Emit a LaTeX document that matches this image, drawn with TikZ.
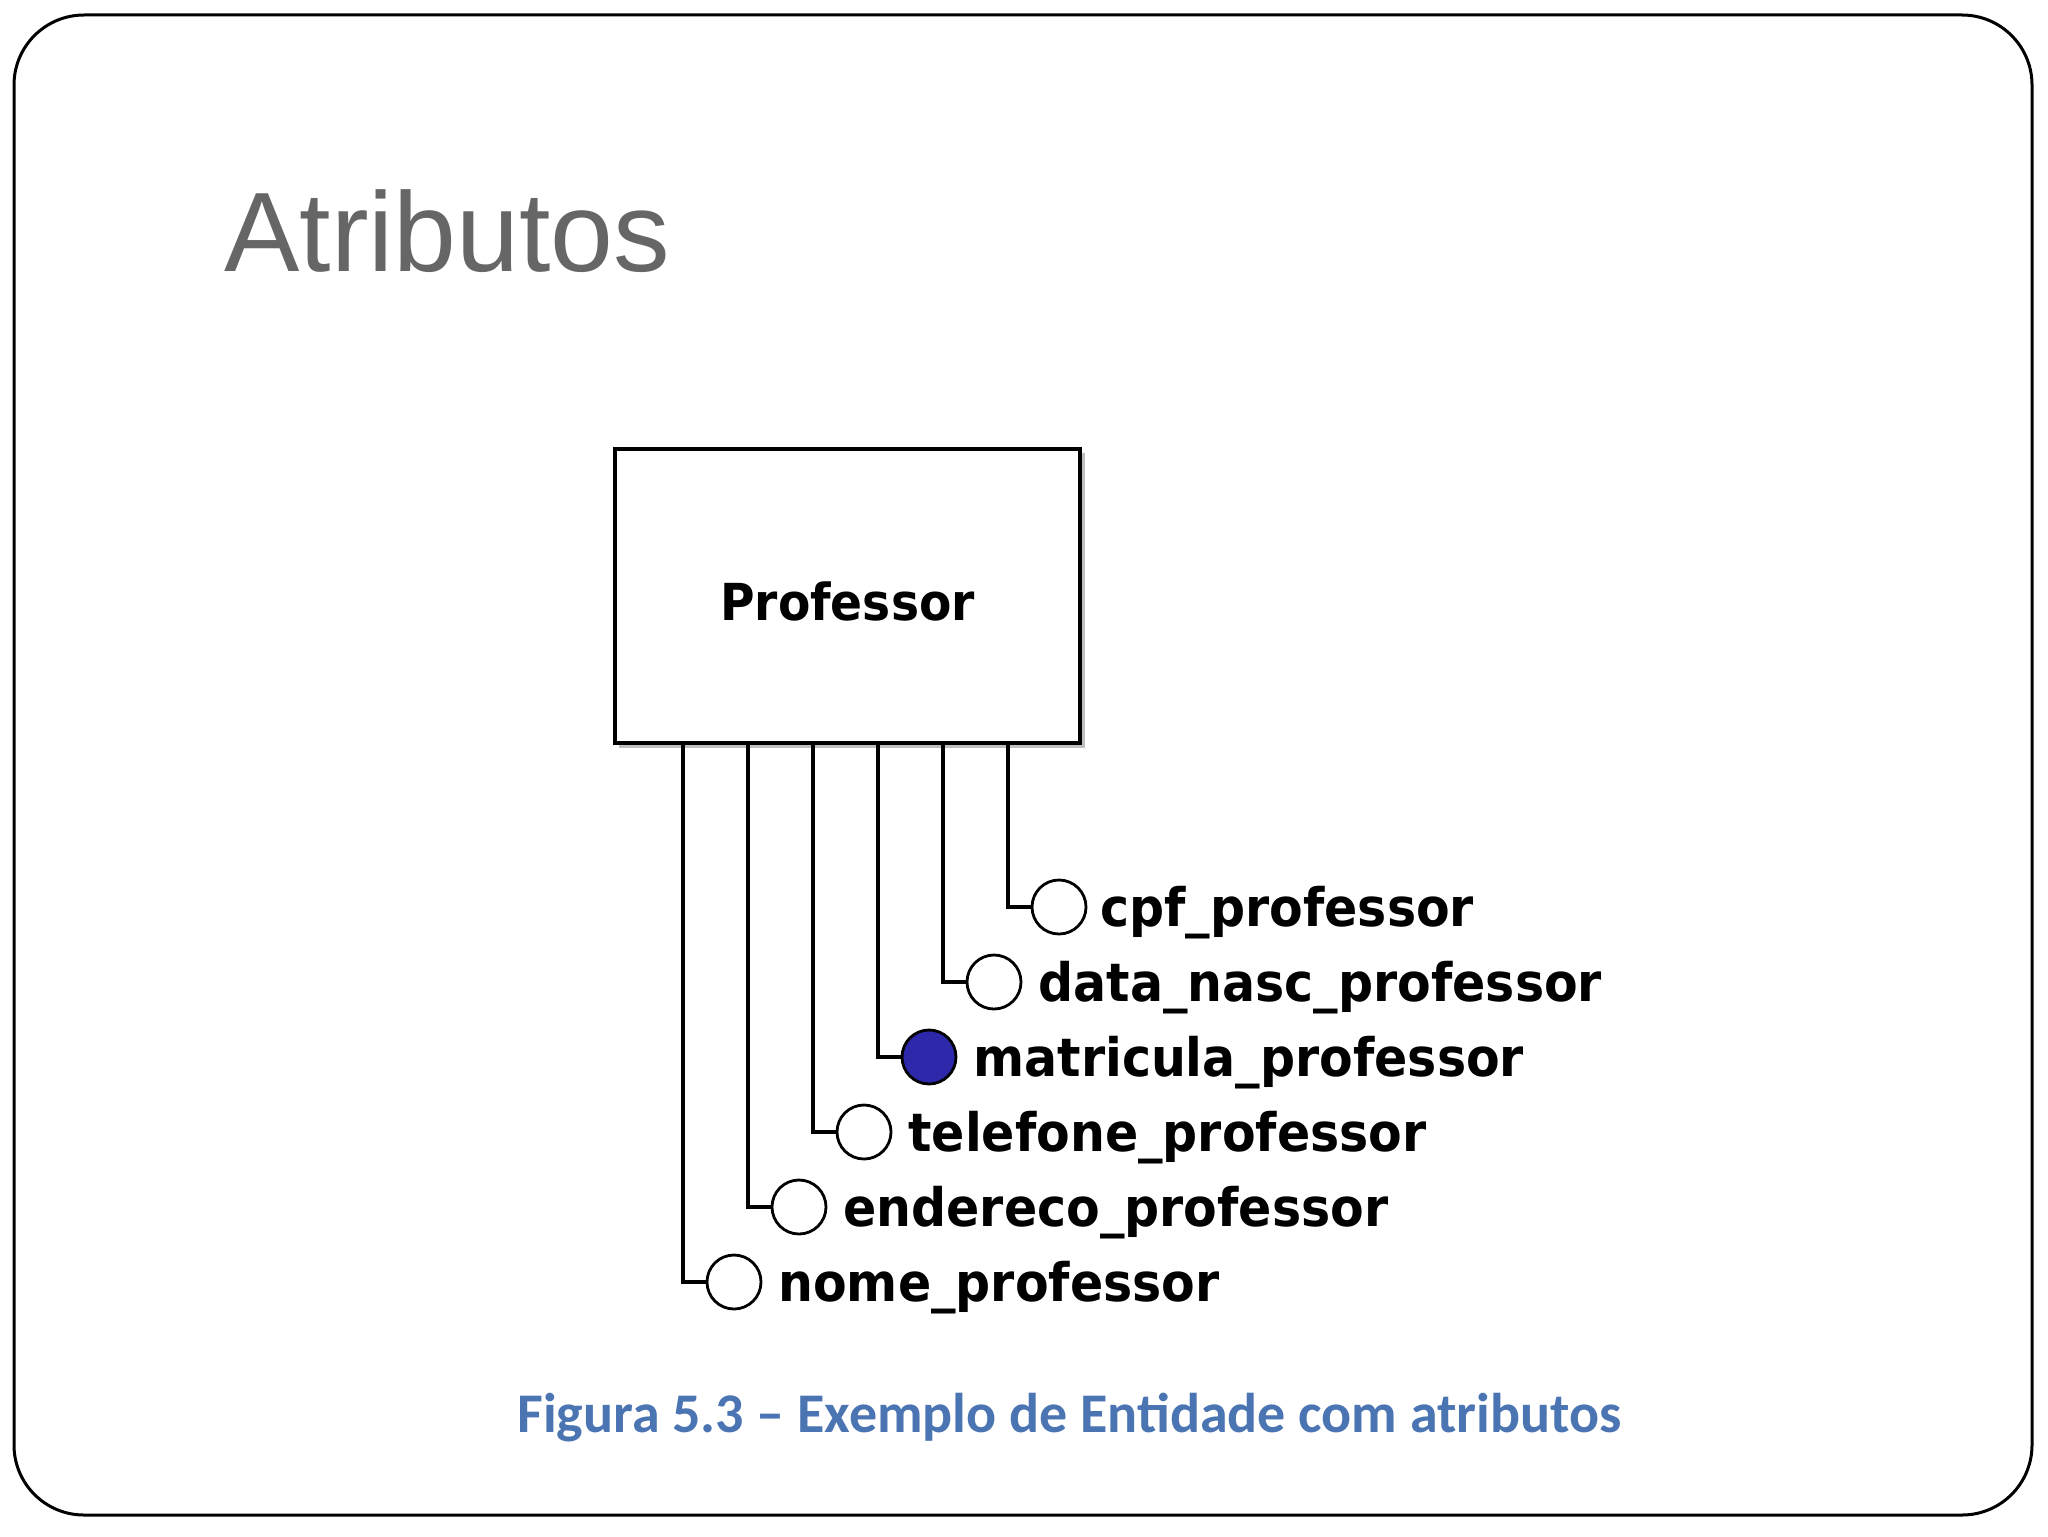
\documentclass[tikz,border=0pt]{standalone}
\usepackage{fontspec}
\setmainfont{Liberation Sans}
\newfontfamily\titlefont{Liberation Sans}
\newfontfamily\diagfont{DejaVu Sans}[FakeStretch=0.925]
\newfontfamily\capfont{Carlito}
\definecolor{titlegray}{RGB}{102,102,102}
\definecolor{capblue}{RGB}{74,116,178}
\definecolor{keyblue}{RGB}{45,40,170}
\begin{document}
\begin{tikzpicture}[x=0.5pt,y=-0.5pt,
  frame/.style={line width=1.5pt,rounded corners=35pt},
  entity/.style={draw,line width=2.2pt,minimum width=232.5pt,minimum height=147pt,inner sep=0pt,
    text height=24pt,text depth=0pt,
    font=\diagfont\bfseries\fontsize{25.5pt}{30pt}\selectfont},
  attr/.style={draw,circle,line width=1.4pt,minimum size=27pt,inner sep=0pt,fill=white},
  keyattr/.style={attr,fill=keyblue},
  conn/.style={line width=2pt},
  lbl/.style={anchor=base west,inner sep=0pt,font=\diagfont\bfseries\fontsize{26.5pt}{30pt}\selectfont}]
\useasboundingbox (0,0) rectangle (2048,1536);
\draw[frame] (14,15) rectangle (2032,1515);
\node[anchor=base west,inner sep=0pt,text=titlegray,font=\titlefont\fontsize{56.5pt}{64pt}\selectfont] (title) at (224,271) {Atributos};
% shadow
\fill[black!25] (619,453) rectangle (1085,748);
\node[entity,fill=white] (prof) at (847.5,596) {Professor};
% attribute circles
\node[attr] (c1) at (734,1282) {};
\node[attr] (c2) at (799,1207) {};
\node[attr] (c3) at (864,1132) {};
\node[keyattr] (c4) at (929,1057) {};
\node[attr] (c5) at (994,982) {};
\node[attr] (c6) at (1059,907) {};
% line tops
\coordinate (t1) at (683,743);
\coordinate (t2) at (748,743);
\coordinate (t3) at (813,743);
\coordinate (t4) at (878,743);
\coordinate (t5) at (943,743);
\coordinate (t6) at (1008,743);
\foreach \i in {1,...,6}{\draw[conn] (t\i) |- (c\i.west);}
% labels
\node[lbl] (l1) at (778,1301) {nome\_professor};
\node[lbl] (l2) at (843,1226) {endereco\_professor};
\node[lbl] (l3) at (908,1151) {telefone\_professor};
\node[lbl] (l4) at (973,1076) {matricula\_professor};
\node[lbl] (l5) at (1038,1001) {data\_nasc\_professor};
\node[lbl] (l6) at (1100,926) {cpf\_professor};
% caption
\node[anchor=base west,inner sep=0pt,text=capblue,font=\capfont\bfseries\fontsize{28pt}{32pt}\selectfont] (cap) at (517,1432) {Figura 5.3 – Exemplo de Entidade com atributos};
\end{tikzpicture}
\end{document}
